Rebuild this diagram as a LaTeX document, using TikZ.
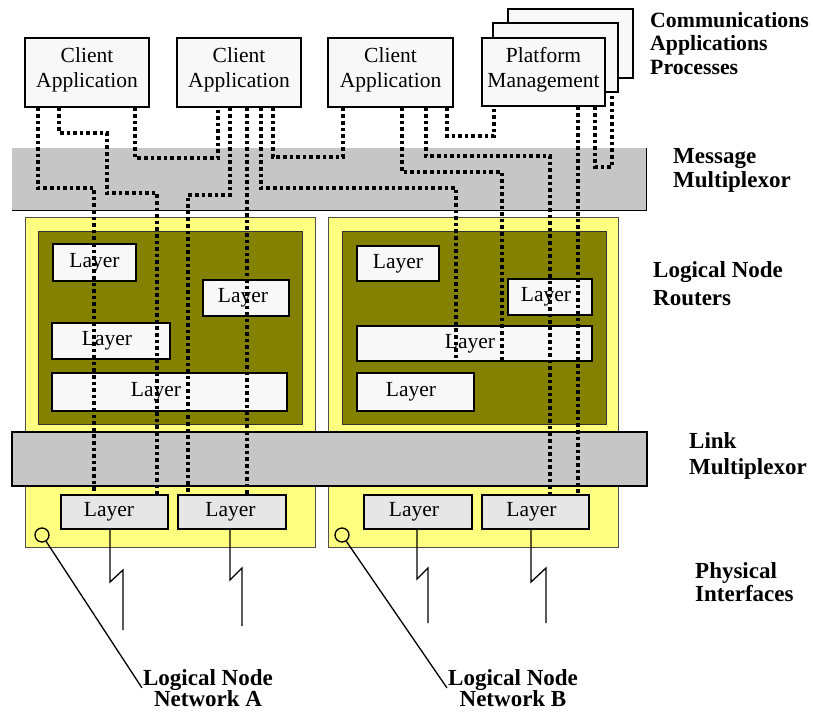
\documentclass[tikz,border=0pt]{standalone}
\usepackage{fontspec}
\setmainfont{Liberation Serif}
\definecolor{boxfill}{HTML}{F8F8F8}
\definecolor{physfill}{HTML}{E6E6E6}
\definecolor{barfill}{HTML}{C6C6C6}
\definecolor{yellowfill}{HTML}{FFFF80}
\definecolor{olivefill}{HTML}{848000}
\definecolor{panelborder}{HTML}{505050}
\begin{document}
\begin{tikzpicture}[x=1pt,y=-1pt,
  box/.style={draw=black,line width=1.3pt,fill=boxfill,inner sep=0pt,align=center,
    font=\fontsize{21.5}{25}\selectfont},
  layerbox/.style={box},
  physbox/.style={box,fill=physfill},
  bar/.style={fill=barfill,inner sep=0pt},
  panel/.style={draw=panelborder,line width=1pt,fill=yellowfill,inner sep=0pt},
  olivebox/.style={draw=black!80,line width=1pt,fill=olivefill,inner sep=0pt},
  edge/.style={draw=black,line width=1.3pt},
  thinline/.style={draw=black,line width=1.3pt},
  dotline/.style={line width=3.1pt,dash pattern=on 3.6pt off 3pt},
  lab/.style={font=\fontsize{23}{23.3}\selectfont\bfseries,align=left,anchor=base west,inner sep=0pt},
  clab/.style={font=\fontsize{23}{21.5}\selectfont\bfseries,align=center,anchor=base,inner sep=1pt},
  ring/.style={circle,draw=black,line width=1.3pt,minimum size=14pt,inner sep=0pt}
]
\useasboundingbox (0,0) rectangle (813,712);

% top boxes
\node[box,minimum width=125pt,minimum height=69pt] (PMc) at (570.5,43.5) {};
\node[box,minimum width=125pt,minimum height=69pt] (PMb) at (555.5,57.5) {};
\node[box,minimum width=123pt,minimum height=68pt] (PM) at (543.5,72) {Platform\\Management\\[-16pt]};
\node[box,minimum width=124pt,minimum height=69pt] (C1) at (87,72.5) {Client\\Application\\[-16pt]};
\node[box,minimum width=124pt,minimum height=69pt] (C2) at (239,72.5) {Client\\Application\\[-16pt]};
\node[box,minimum width=125pt,minimum height=69pt] (C3) at (390.5,72.5) {Client\\Application\\[-16pt]};

% message multiplexor
\node[bar,minimum width=634pt,minimum height=62pt] (MM) at (329,179) {};
\draw[edge] (MM.south west) -- (MM.south east) -- (MM.north east);

% panels
\node[panel,minimum width=290pt,minimum height=330pt] (YA) at (170,382) {};
\node[panel,minimum width=290pt,minimum height=330pt] (YB) at (473,382) {};
\node[olivebox,minimum width=264pt,minimum height=193pt] (OA) at (170,327.5) {};
\node[olivebox,minimum width=264pt,minimum height=193pt] (OB) at (474,327.5) {};

% router layers
\node[layerbox,minimum width=83pt,minimum height=37pt] (L1) at (94.5,262.5) {Layer};
\node[layerbox,minimum width=86pt,minimum height=36pt] (L2) at (246,298) {Layer\hspace*{6pt}};
\node[layerbox,minimum width=118pt,minimum height=36pt] (L3) at (111,341) {Layer\hspace*{8pt}};
\node[layerbox,minimum width=235pt,minimum height=38pt] (L4) at (169.5,392) {Layer\hspace*{27pt}};
\node[layerbox,minimum width=82pt,minimum height=35pt] (R1) at (398,263.5) {Layer};
\node[layerbox,minimum width=84pt,minimum height=36pt] (R2) at (550,297) {Layer\hspace*{8pt}};
\node[layerbox,minimum width=235pt,minimum height=35pt] (R3) at (474.5,343.5) {Layer\hspace*{9pt}};
\node[layerbox,minimum width=117pt,minimum height=38pt] (R4) at (415.5,392) {Layer\hspace*{9pt}};

% link multiplexor
\node[bar,draw=black,line width=1.3pt,minimum width=635pt,minimum height=54pt] (LM) at (329.5,459) {};

% physical layers
\node[physbox,minimum width=107pt,minimum height=34pt] (P1) at (114.5,512) {Layer\hspace*{11pt}};
\node[physbox,minimum width=108pt,minimum height=34pt] (P2) at (232,512) {Layer\hspace*{3pt}};
\node[physbox,minimum width=108pt,minimum height=34pt] (P3) at (418,512) {Layer\hspace*{8pt}};
\node[physbox,minimum width=107pt,minimum height=34pt] (P4) at (535.5,512) {\raisebox{2pt}{Layer}\hspace*{8pt}};

% rings
\node[ring] (cA) at (42,535) {};
\node[ring] (cB) at (342,535) {};

% lightning lines
\coordinate (z1) at (123,630);
\coordinate (z2) at (242,626);
\coordinate (z3) at (428,623);
\coordinate (z4) at (546,623);
\draw[thinline] (110,0 |- P1.south) -- (110,582) -- (123,570) -- (z1);
\draw[thinline] (230,0 |- P2.south) -- (230,580) -- (242,568) -- (z2);
\draw[thinline] (417,0 |- P3.south) -- (417,579) -- (428,568) -- (z3);
\draw[thinline] (531,0 |- P4.south) -- (531,582) -- (546,568) -- (z4);

% labels
\node[lab,font=\fontsize{21.8}{23.3}\selectfont\bfseries] (tCAP) at (650,74) {Communications\\Applications\\Processes};
\node[lab] (tMM) at (673,187) {Message\\Multiplexor};
\node[lab] (tLNR) at (653,305) {Logical Node\\[4.4pt]Routers};
\node[lab] (tLM) at (689,474) {Link\\[2pt]Multiplexor};
\node[lab] (tPI) at (695,601.5) {Physical\\Interfaces};
\node[clab] (labA) at (208,706.5) {Logical Node\\Network A};
\node[clab] (labB) at (513,706.5) {Logical Node\\Network B};

\draw[thinline] (cA) -- (labA.west);
\draw[thinline] (cB) -- (labB.west);

% dotted connections
\draw[dotline] (38,0 |- C1.south) -- (38,188) -- (94,188) -- (94,0 |- P1.north);
\draw[dotline] (59,0 |- C1.south) -- (59,133) -- (107,133) -- (107,193) -- (157,193) -- (157,0 |- P1.north);
\draw[dotline] (135,0 |- C1.south) -- (135,158) -- (218,158) -- (218,0 |- C2.south);
\draw[dotline] (230,0 |- C2.south) -- (230,195) -- (188,195) -- (188,0 |- P2.north);
\draw[dotline] (247,0 |- C2.south) -- (247,0 |- P2.north);
\draw[dotline] (261,0 |- C2.south) -- (261,188) -- (456,188) -- (456,0 |- R3.south);
\draw[dotline] (273,0 |- C2.south) -- (273,157) -- (343,157) -- (343,0 |- C3.south);
\draw[dotline] (402,0 |- C3.south) -- (402,172) -- (502,172) -- (502,0 |- R3.south);
\draw[dotline] (426,0 |- C3.south) -- (426,156) -- (550,156) -- (550,0 |- P4.north);
\draw[dotline] (447,0 |- C3.south) -- (447,136) -- (494,136) -- (494,0 |- PM.south);
\draw[dotline] (578,0 |- PM.south) -- (578,0 |- P4.north);
\draw[dotline] (595,0 |- PM.south) -- (595,167) -- (612,167) -- (612,0 |- PMb.south);
\end{tikzpicture}
\end{document}
